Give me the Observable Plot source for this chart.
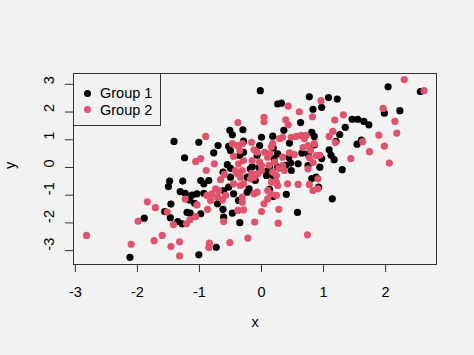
<!DOCTYPE html>
<html>
<head>
<meta charset="utf-8">
<script src="https://cdn.jsdelivr.net/npm/d3@7"></script>
<script src="https://cdn.jsdelivr.net/npm/@observablehq/plot@0.6"></script>
<style>
  html, body { margin: 0; padding: 0; background: #f2f2f2; }
  #wrap { position: relative; width: 474px; height: 355px; font-family: "Liberation Sans", Arial, Helvetica, sans-serif; }
  #legend { position: absolute; left: 73px; top: 73px; width: 88px; height: 53px; box-sizing: border-box; border: 1px solid #333; background: #f2f2f2; }
  #legend .item { position: absolute; left: 0; height: 16px; line-height: 16px; font-size: 14.5px; color: #000; white-space: nowrap; }
  #legend .sw { position: absolute; left: 10px; top: 4.5px; width: 7px; height: 7px; border-radius: 50%; }
  #legend .lab { position: absolute; left: 26px; top: 0; }
</style>
</head>
<body>
<div id="wrap"><div id="legend"></div></div>
<script>
// Group 1 (black)
const group1X = [-1.41,-1.24,2.04,2.56,1.98,2.23,1.46,1.55,1.65,1.73,1.35,1.08,1.22,0.97,0.83,0.77,1.26,0.85,0.85,1.20,1.54,1.61,1.09,1.12,1.17,0.97,1.30,-0.02,0.26,0.32,0.63,-0.51,-0.47,-0.30,-1.01,-0.70,-0.29,-0.77,-0.53,-0.50,-0.35,-0.29,-0.55,-0.50,-0.18,-0.62,0.00,0.18,0.36,0.81,0.45,-0.03,0.26,0.65,0.75,0.59,0.75,0.26,0.13,0.10,0.94,0.44,0.20,-0.07,0.39,0.47,-0.15,-0.04,0.19,-1.48,-1.50,-1.27,-1.31,-1.23,-1.16,-1.12,-1.46,-1.56,-1.47,-1.20,-1.35,-1.28,-1.89,-2.12,-1.08,-1.01,-0.73,-0.35,0.58,-0.61,-0.47,-0.62,-0.71,-0.98,-0.93,-0.85,-1.04,-0.93,-0.61,-0.53,-0.98,-0.50,-0.23,-0.20,-0.45,-0.37,-0.23,-0.10,0.08,0.18,0.48,0.88,0.13,0.19,0.40,0.92,1.14,0.81,-1.15];
const group1Y = [0.94,0.35,2.91,2.74,1.96,2.05,1.74,1.74,1.66,1.54,1.45,2.52,2.47,2.17,2.10,2.55,1.19,1.12,0.81,0.94,0.84,0.99,0.64,0.44,0.28,0.32,-0.08,2.77,2.29,2.32,1.62,1.34,1.18,1.36,0.91,0.79,0.95,0.53,0.76,0.61,0.43,0.55,0.10,-0.03,-0.05,-0.17,1.09,1.13,1.34,1.27,0.88,0.79,0.49,0.52,0.49,0.13,0.07,0.01,0.01,-0.11,0.01,0.36,0.32,0.44,0.08,0.16,0.03,0.00,0.70,-0.49,-0.69,-0.49,-0.87,-0.93,-1.17,-1.00,-1.32,-1.59,-1.81,-1.62,-1.95,-2.03,-1.83,-3.24,-1.29,-3.15,-2.88,-1.99,-1.62,-1.79,-1.65,-1.51,-1.31,-0.47,-0.59,-0.47,-0.95,-0.93,-0.83,-0.71,-1.67,-0.35,-0.35,-0.77,-0.95,-1.19,-0.89,-0.47,-0.29,-0.29,-0.11,-0.35,-0.79,-1.05,-0.97,-0.71,-1.13,-0.40,-1.65];
// Group 2 (pink)
const group2X = [-1.06,-0.98,2.30,2.62,1.96,2.15,2.18,1.89,1.98,1.74,2.06,1.32,1.18,0.96,0.82,1.15,1.09,1.19,1.63,0.94,1.44,0.79,0.43,0.61,0.04,0.04,0.39,0.43,-0.38,-0.90,-0.47,-0.39,-0.31,-0.16,-0.12,-0.45,-0.35,-0.29,-0.37,-0.76,-0.15,-0.89,-0.31,-0.42,0.29,0.34,0.48,0.56,0.64,0.72,0.69,0.75,0.85,0.18,0.16,-0.07,0.05,0.10,0.13,0.34,0.45,0.53,0.77,0.88,0.34,0.37,-0.03,0.00,0.21,0.75,0.00,0.67,0.12,0.83,-2.82,-2.10,-1.99,-1.84,-1.71,-1.73,-1.60,-1.46,-1.32,-1.32,-1.23,-1.52,-1.42,-1.21,-1.15,-0.84,-0.85,-0.51,-0.22,0.74,-0.61,-0.11,0.27,-0.38,-0.29,0.00,0.28,-1.06,-1.04,-0.87,-0.88,-0.80,-0.74,-0.69,-0.58,-0.71,-0.63,-0.82,-0.60,-0.66,-0.39,-0.34,-0.16,-0.12,-0.45,-0.34,-0.29,-0.18,-0.31,-0.31,-0.12,-0.06,0.18,0.24,0.16,0.24,0.26,0.42,0.59,0.77,0.83,0.91,-0.07,0.10,0.15,0.24,0.10,0.04,0.28,0.91];
const group2Y = [0.22,0.32,3.17,2.77,2.13,1.66,1.24,1.17,0.77,0.57,0.16,1.90,1.71,2.41,1.83,1.30,1.12,0.90,0.93,0.44,0.32,0.62,2.21,2.01,1.81,1.65,1.72,1.54,1.62,1.12,0.86,0.79,0.86,0.91,0.64,0.40,0.61,0.25,0.13,0.13,0.25,-0.11,-0.11,-0.11,1.04,1.09,1.09,1.12,1.16,1.16,1.04,0.79,0.86,0.86,0.74,0.55,0.55,0.37,0.49,0.37,0.53,0.46,0.35,0.43,0.07,-0.11,0.19,0.07,0.19,-0.05,-0.11,0.72,0.08,0.18,-2.45,-2.77,-1.94,-1.24,-1.45,-2.64,-2.45,-2.85,-2.68,-3.19,-1.14,-1.61,-2.06,-2.03,-1.87,-2.73,-2.89,-2.71,-2.55,-2.43,-1.95,-1.97,-2.01,-1.55,-1.53,-1.59,-1.51,-1.77,-1.35,-1.51,-1.01,-0.95,-0.77,-0.83,-1.01,-1.07,-1.17,-1.19,-0.25,-0.44,-0.23,-0.35,-0.21,-0.35,-0.59,-0.65,-0.59,-0.41,-1.07,-1.25,-0.95,-0.23,-0.17,-0.29,-0.53,-0.53,-0.65,-0.59,-0.61,-0.61,-0.83,-0.41,-0.89,-0.83,-0.95,-1.01,-1.13,-1.31,-0.03,-0.77];

const groups = ["Group 1", "Group 2"];
const colors = ["#000000", "#DF536B"];
const xTicks = [-3, -2, -1, 0, 1, 2];
const yTicks = [-3, -2, -1, 0, 1, 2, 3];
const xTickLabels = ["-3", "-2", "-1", "0", "1", "2"];
const yTickLabels = ["-3", "-2", "-1", "0", "1", "2", "3"];

const data = [
  ...group1X.map((x, i) => ({x, y: group1Y[i], group: groups[0]})),
  ...group2X.map((x, i) => ({x, y: group2Y[i], group: groups[1]}))
];

const chart = Plot.plot({
  width: 474,
  height: 355,
  marginLeft: 73,
  marginRight: 38,
  marginTop: 73,
  marginBottom: 91,
  style: {background: "#f2f2f2", fontFamily: "'Liberation Sans', Arial, Helvetica, sans-serif", fontSize: "14.5px", color: "#000"},
  x: {domain: [-3.03, 2.82]},
  y: {domain: [-3.5, 3.39]},
  color: {domain: groups, range: colors},
  marks: [
    Plot.axisX({ticks: xTicks, tickSize: 8, tickPadding: 14, tickFormat: (d) => xTickLabels[xTicks.indexOf(d)], label: null, stroke: "#333"}),
    Plot.axisY({ticks: yTicks, tickSize: 8, tickFormat: () => "", label: null, stroke: "#333"}),
    Plot.text(yTicks, {y: (d) => d, text: (d, i) => yTickLabels[i], frameAnchor: "left", dx: -24.5, rotate: -90, fill: "#000"}),
    Plot.text(["x"], {frameAnchor: "bottom", dy: 62.5, fill: "#000"}),
    Plot.text(["y"], {frameAnchor: "left", dx: -63.5, rotate: -90, fill: "#000"}),
    Plot.dot(data, {x: "x", y: "y", fill: "group", r: 3.6, stroke: null}),
    Plot.frame({stroke: "#333"})
  ]
});
document.getElementById("wrap").prepend(chart);

const legend = document.getElementById("legend");
groups.forEach((g, i) => {
  const item = document.createElement("div");
  item.className = "item";
  item.style.top = (11 + i * 16.7) + "px";
  item.innerHTML = `<span class="sw" style="background:${colors[i]}"></span><span class="lab">${g}</span>`;
  legend.appendChild(item);
});
</script>
</body>
</html>
